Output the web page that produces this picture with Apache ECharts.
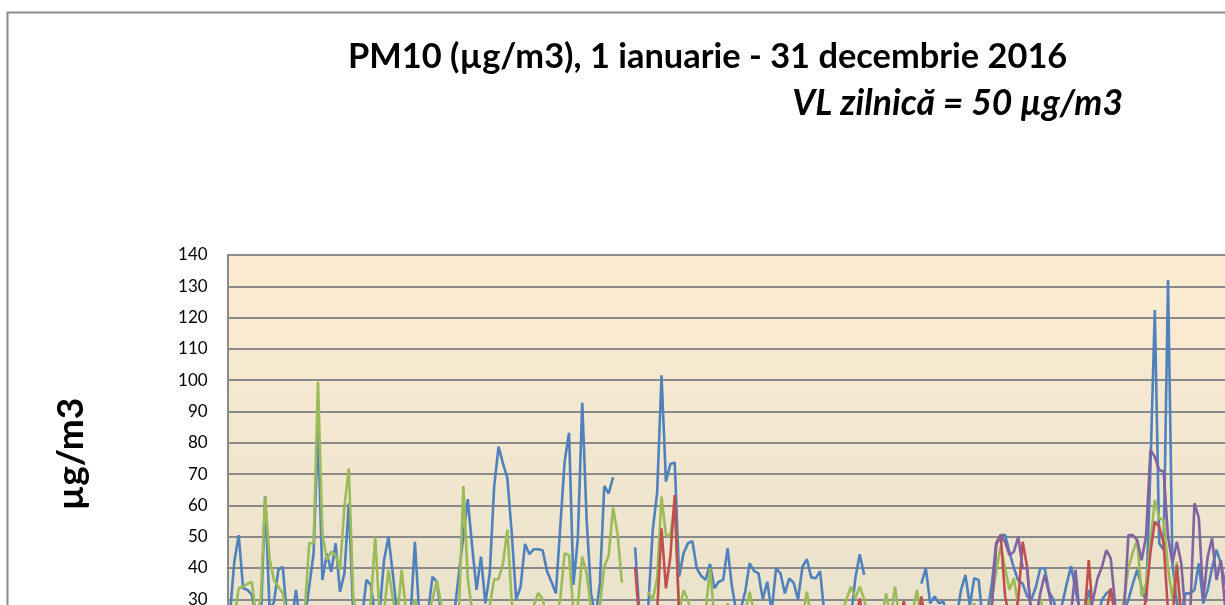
<!DOCTYPE html>
<html>
<head>
<meta charset="utf-8">
<script src="https://cdn.jsdelivr.net/npm/echarts@6/dist/echarts.min.js"></script>
<style>
  html, body { margin: 0; padding: 0; background: #fff; }
  #chart { width: 1225px; height: 605px; }
</style>
</head>
<body>
<div id="chart"></div>
<script>
// PM10 daily values, 2016 (only the part visible in the picture is read)
const yTicks = [0, 10, 20, 30, 40, 50, 60, 70, 80, 90, 100, 110, 120, 130, 140]

// blue station, from 1 Jan
const blueValues = [
  25, 42, 50.5, 33.5, 33, 31.4, 24, 22, 63, 27, 29, 39.4, 40.4, 24, 22, 33, 22, 24, 34, 44.7,
  85, 36.2, 44.7, 38.8, 47.9, 32.4, 38.3, 60.7, 25, 22, 24, 36.2, 34.6, 24, 26, 42.5, 50, 38, 25, 22,
  20, 24, 48.4, 25, 22, 26, 37.2, 35.6, 25, 22, 22, 26, 38.3, 50, 62, 47, 33, 43.6, 28.7, 38.3,
  66, 78.8, 73.4, 68.6, 51, 30, 34, 47.7, 44.4, 46, 46, 45.7, 39, 35.6, 31.9, 53, 74, 83.2, 34.6, 49.5,
  92.8, 55.3, 31.9, 24, 35, 66.2, 63.8, 69, null, null, null, null, 46.6, 25, 22, 28, 52, 64, 101.6, 67.6,
  73.2, 73.7, 37.2, 44.7, 47.9, 48.6, 39.9, 37.5, 36.2, 41.3, 33.5, 35.6, 36.2, 46.3, 34, 26, 27, 32.4, 41.5, 39.1,
  38.3, 30, 35.6, 26, 39.9, 38.3, 31.9, 36.7, 35.3, 30, 40.4, 42.8, 37, 36.7, 39, 25, 22, 20, 22, 24,
  22, 24, 36.7, 44.4, 37.8, null, null, null, null, null, null, null, null, null, null, null, null, 35, 40, 28.7,
  30.9, 28.7, 29.3, 24, 22, 24, 33, 37.8, 28, 36.7, 36.2, 22, 26, 35, 48, 50.5, 50.5, 45, 40, 36,
  35, 31, 30, 34, 39.9, 39.9, 32.4, 29.8, 24, 28.7, 35, 40.6, 33, 26, 26, 33, 26, 24, 29.8, 31.9,
  33, 26, 24, 26, 29.8, 35, 39.4, 34, 29, 72, 122.4, 47.9, 45.8, 132, 41.5, 28.7, 26, 31.9, 31.9, 33,
  41.5, 28.7, 33, 40, 45.8, 41.5, 35, 30
]

// green station, from 1 Jan
const greenValues = [
  22, 24, 33.5, 34, 35, 35.5, 24, 30, 62.8, 43, 36.2, 34, 32, 24, 22, 22, 24, 26, 47.9, 47.9,
  99.5, 51, 42.6, 45.2, 44.2, 39.4, 59.6, 71.8, 30.8, 22, 22, 24, 29, 50, 24, 26, 39.4, 30, 24, 39.4,
  26, 22, 30, 24, 22, 26, 30, 36, 28, 22, 22, 22, 26, 66.2, 36.7, 26, 22, 22, 24, 28,
  36.4, 36.4, 41.5, 52.3, 29, 22, 22, 24, 26, 28, 32, 30, 24, 22, 24, 30, 44.7, 44.1, 26, 28,
  43.6, 38.3, 27, 22, 28, 40.4, 44.1, 59.3, 51, 35.3, null, null, null, null, null, 32.4, 29.8, 36.7, 62.8, 50.5,
  50.5, 60.6, 26, 32.9, 29.8, 24, 22, 24, 26, 39.9, 24, 22, 24, 28.7, 24, 22, 24, 26, 32.4, 26,
  22, 24, 22, 24, 22, 24, 22, 24, 22, 26, 24, 32.4, 24, 22, 24, 22, 24, 22, 24, 26,
  30, 34, 30.3, 34, 30, 24, 22, 26, 24, 31.9, 24, 34, 24, 22, 24, 26, 33, 24, 22, 24,
  22, 24, 22, 24, 22, 24, 22, 24, 26, 28.7, 24, 22, 24, 30, 39, 47, 40, 33, 36.7, 28,
  24, 22, 24, 26, 30.3, 24, 22, 24, 22, 24, 22, 24, 22, 24, 26, 29.8, 24, 22, 24, 26,
  24, 22, 24, 30, 40, 45, 49, 31, 35, 48, 61.7, 55.9, 55.3, 40, 30.3, 42, 24, 22, 24, 22,
  24, 22, 24, 26, 28, 24, 22, 24
]

// red station starts on day index 92 (ten values per row, comment = first day of row)
const redFirstDay = 92
const redValues = [
  40.4, 22, 20, 22, 24, 26, 52.7, 33.5, 43.6, 63.3,   // 92
  24, 22, 20, 22, 24, 22, 20, 22, 24, 22,             // 102
  20, 22, 24, 22, 20, 22, 24, 22, 20, 22,             // 112
  24, 22, 20, 22, 24, 22, 20, 22, 24, 22,             // 122
  22, 24, 22, 20, 22, 24, 22, 20, 22, 24,             // 132
  22, 30.3, 22, 20, 22, 24, 22, 20, 22, 24,           // 142
  22, 29.5, 22, 24, 22, 30.9, 22, 20, 22, 24,         // 152
  22, 20, 22, 24, 22, 20, 22, 24, 22, 20,             // 162
  22, 28, 47.9, 50.6, 31, 24, 24, 30, 48.4, 40.4,     // 172
  24, 22, 20, 22, 24, 22, 20, 22, 24, 22,             // 182
  20, 22, 24, 42.5, 24, 22, 24, 26, 33.5, 24,         // 192
  22, 20, 22, 24, 22, 24, 30, 45, 54.8, 53.2,         // 202
  47.9, 26, 24, 41, 24, 22, 20, 22, 24, 22,           // 212
  20, 22, 24, 22, 22, 22                              // 222
]

// purple station starts on day index 173
const purpleFirstDay = 173
const purpleValues = [
  28, 47.4, 50, 48.4, 44.1, 45.2, 50, 39.9, 39.9, 24, 24, 32, 37.8, 31.9, 24, 22, 24, 22, 26, 39.4,
  24, 22, 26, 30, 36.7, 40.4, 45.7, 43, 28.2, 22, 26, 50.5, 50.5, 48.9, 42.5, 50, 77.7, 75.5, 71.3, 70.8,
  50, 41.5, 48.4, 41.5, 24, 24, 60.7, 55.9, 30, 43.6, 49.5, 36.2, 42.5, 27, 30
]

// one category per day of 2016
const days = []
const d0 = new Date(Date.UTC(2016, 0, 1))
for (let i = 0; i < 366; i++) {
  const d = new Date(d0.getTime() + i * 86400000)
  days.push(d.getUTCDate() + '.' + (d.getUTCMonth() + 1) + '.2016')
}

const fromDay = (start, arr) => arr.map((v, i) => [start + i, v])

const chart = echarts.init(document.getElementById('chart'))

const lineSeries = (name, data, color) => ({
  name: name,
  type: 'line',
  data: data,
  symbol: 'none',
  connectNulls: false,
  lineStyle: { color: color, width: 2.6 },
  itemStyle: { color: color }
})

chart.setOption({
  animation: false,
  title: [
    {
      text: 'PM10 (µg/m3), 1 ianuarie - 31 decembrie 2016',
      left: 343,
      top: 35,
      textStyle: { fontFamily: 'Lato', fontWeight: 'bold', fontSize: 34.4, color: '#000' }
    },
    {
      text: 'VL zilnică = 50 µg/m3',
      right: 97,
      top: 81,
      textStyle: { fontFamily: 'Lato', fontWeight: 'bold', fontStyle: 'italic', fontSize: 35.5, color: '#000' }
    }
  ],
  graphic: [
    {
      // outer chart frame
      type: 'rect',
      left: 5,
      top: 10,
      shape: { width: 1400, height: 800 },
      style: { fill: 'none', stroke: '#8a8a8a', lineWidth: 2 },
      z: -10
    },
    {
      // y axis title
      type: 'text',
      x: 71,
      y: 454,
      rotation: Math.PI / 2,
      style: {
        text: 'µg/m3',
        fontFamily: 'Lato',
        fontWeight: 'bold',
        fontSize: 37,
        fill: '#000',
        align: 'center',
        verticalAlign: 'middle'
      }
    }
  ],
  grid: {
    left: 227.7,
    top: 255,
    width: 1612,
    height: 438.2,
    outerBoundsMode: 'none',
    containLabel: false,
    show: true,
    borderWidth: 0,
    backgroundColor: new echarts.graphic.LinearGradient(0, 0, 0, 1, [
      { offset: 0, color: '#fdecd2' },
      { offset: 1, color: '#e6e0cb' }
    ])
  },
  xAxis: {
    type: 'category',
    data: days,
    boundaryGap: true,
    axisLine: { show: false },
    axisTick: { show: false },
    axisLabel: { show: false },
    splitLine: { show: false }
  },
  yAxis: {
    type: 'value',
    min: yTicks[0],
    max: yTicks[yTicks.length - 1],
    interval: 10,
    axisLine: { show: true, lineStyle: { color: '#8a8a8a', width: 2 } },
    axisTick: { show: false },
    axisLabel: { fontFamily: 'Lato', fontSize: 17, color: '#000', margin: 20 },
    splitLine: { show: true, lineStyle: { color: '#8a8a8a', width: 2 } }
  },
  series: [
    lineSeries('blue', blueValues, '#4f81bd'),
    lineSeries('green', greenValues, '#9bbb59'),
    lineSeries('red', fromDay(redFirstDay, redValues), '#c0504d'),
    lineSeries('purple', fromDay(purpleFirstDay, purpleValues), '#8064a2')
  ]
})
</script>
</body>
</html>
